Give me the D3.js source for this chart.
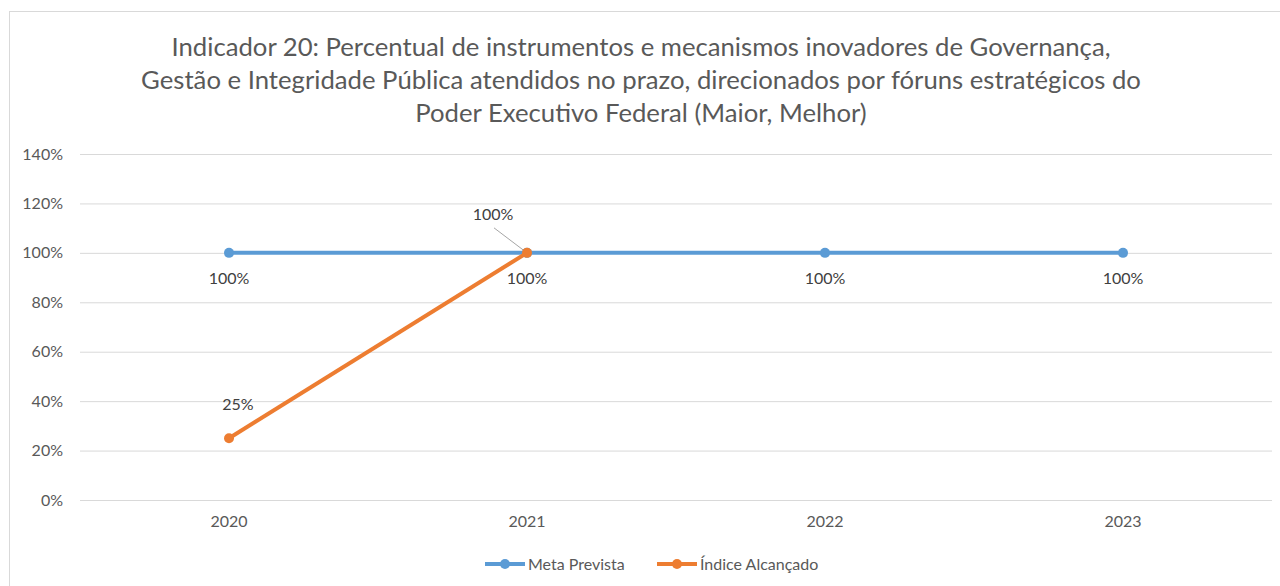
<!DOCTYPE html>
<html><head><meta charset="utf-8">
<script src="https://cdn.jsdelivr.net/npm/d3@7"></script>
<style>
html,body{margin:0;padding:0;background:#fff;}
svg{display:block;font-family:Lato,"Open Sans",sans-serif;}
</style></head>
<body>
<svg id="chart" width="1280" height="586"></svg>
<script>
const categories = ["2020","2021","2022","2023"];
const metaPrevista = [100,100,100,100];
const indiceAlcancado = [25,100];
const yTicks = [0,20,40,60,80,100,120,140];
const titleLines = [
  "Indicador 20: Percentual de instrumentos e mecanismos inovadores de Governança,",
  "Gestão e Integridade Pública atendidos no prazo, direcionados por fóruns estratégicos do",
  "Poder Executivo Federal (Maior, Melhor)"
];
const seriesNames = ["Meta Prevista","Índice Alcançado"];
const colors = ["#5B9BD5","#ED7D31"];
const FS = 16;

const svg = d3.select("#chart");
svg.append("rect").attr("x",9.5).attr("y",11.5).attr("width",1290).attr("height",600)
  .attr("fill","#fff").attr("stroke","#d9d9d9").attr("stroke-width",1);

svg.append("g").selectAll("text").data(titleLines).join("text")
  .attr("x",641).attr("y",(d,i)=>56+i*33).attr("text-anchor","middle")
  .attr("font-size",25.7).attr("fill","#595959").text(d=>d);

const x = d3.scaleBand().domain(categories).range([80,1272]);
const y = d3.scaleLinear().domain([0,140]).range([500,154]);
const cx = d => x(d)+x.bandwidth()/2;

svg.append("g").selectAll("line").data(yTicks).join("line")
  .attr("x1",80).attr("x2",1272).attr("y1",d=>y(d)+0.5).attr("y2",d=>y(d)+0.5)
  .attr("stroke","#d9d9d9").attr("stroke-width",1);

const yAxis = d3.axisLeft(y).tickValues(yTicks).tickFormat(d=>d+"%").tickSize(0).tickPadding(0);
const ya = svg.append("g").attr("transform","translate(63,0)").call(yAxis);
ya.select(".domain").remove();
ya.selectAll("text").attr("font-size",FS).attr("fill","#595959").attr("font-family","Lato,'Open Sans',sans-serif");

const xAxis = d3.axisBottom(x).tickSize(0).tickPadding(0);
const xa = svg.append("g").attr("transform","translate(0,516)").call(xAxis);
xa.select(".domain").remove();
xa.selectAll("text").attr("font-size",FS).attr("fill","#595959").attr("dy","0.71em").attr("font-family","Lato,'Open Sans',sans-serif");

const line = d3.line().x(d=>cx(d.c)).y(d=>y(d.v));
const s1 = categories.map((c,i)=>({c,v:metaPrevista[i]}));
const s2 = indiceAlcancado.map((v,i)=>({c:categories[i],v}));

svg.append("line").attr("x1",cx("2021")-33).attr("y1",y(100)-25).attr("x2",cx("2021")).attr("y2",y(100))
  .attr("stroke","#a6a6a6").attr("stroke-width",1);

[s1,s2].forEach((s,k)=>{
  svg.append("path").datum(s).attr("d",line).attr("fill","none")
    .attr("stroke",colors[k]).attr("stroke-width",4).attr("stroke-linejoin","round");
  svg.append("g").selectAll("circle").data(s).join("circle")
    .attr("cx",d=>cx(d.c)).attr("cy",d=>y(d.v)).attr("r",5).attr("fill",colors[k]);
});

svg.append("g").selectAll("text").data(s1).join("text")
  .attr("x",d=>cx(d.c)).attr("y",d=>y(d.v)+31).attr("text-anchor","middle")
  .attr("font-size",FS).attr("fill","#404040").text(d=>d.v+"%");
svg.append("text").attr("x",cx("2020")+9).attr("y",y(25)-28).attr("text-anchor","middle")
  .attr("font-size",FS).attr("fill","#404040").text(indiceAlcancado[0]+"%");
svg.append("text").attr("x",cx("2021")-34).attr("y",y(100)-33).attr("text-anchor","middle")
  .attr("font-size",FS).attr("fill","#404040").text(indiceAlcancado[1]+"%");

const legX = [485,657];
seriesNames.forEach((n,k)=>{
  const g = svg.append("g").attr("transform",`translate(${legX[k]},564)`);
  g.append("line").attr("x1",0).attr("x2",40).attr("y1",0).attr("y2",0)
    .attr("stroke",colors[k]).attr("stroke-width",4);
  g.append("circle").attr("cx",20).attr("cy",0).attr("r",5).attr("fill",colors[k]);
  g.append("text").attr("x",43).attr("y",6).attr("font-size",FS).attr("fill","#595959").text(n);
});
</script>
</body></html>
